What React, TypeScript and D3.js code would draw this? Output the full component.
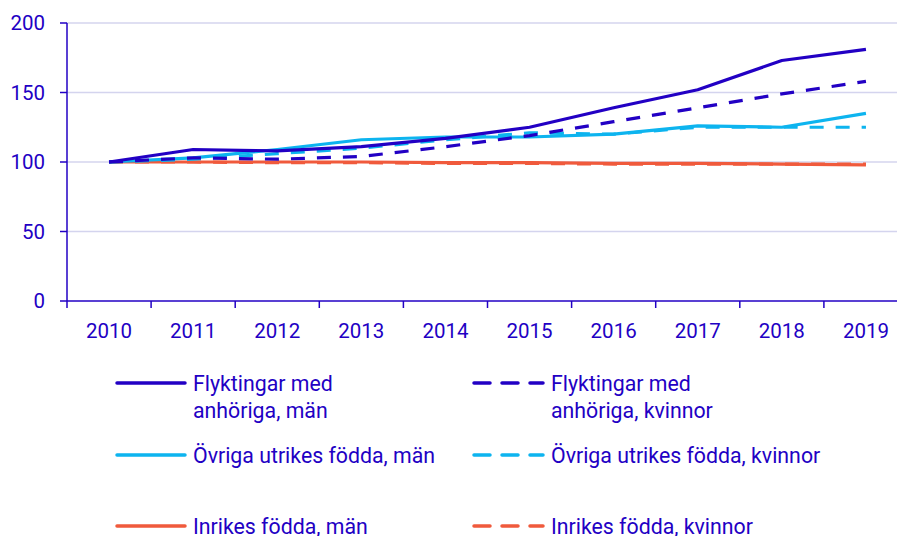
import React from "react";
import * as d3 from "d3";

const years = ["2010", "2011", "2012", "2013", "2014", "2015", "2016", "2017", "2018", "2019"];
const yTicks = [0, 50, 100, 150, 200];

const flyktMan = [100, 109, 108, 111, 117, 125, 139, 152, 173, 181];
const flyktKvinnor = [100, 103, 102, 104, 111, 119, 129, 139, 149, 158];
const ovrigaMan = [100, 103, 109, 116, 118, 118, 120, 126, 125, 135];
const ovrigaKvinnor = [100, 102, 106, 110, 116, 121, 120, 125, 125, 125];
const inrikesMan = [100, 100, 100, 100, 99.5, 99.5, 99, 99, 98.5, 98];
const inrikesKvinnor = [100, 100, 99.5, 99.5, 99, 99, 98.5, 98.5, 98.5, 98.5];

const DARK = "#2200c4";
const LIGHT = "#0db4ef";
const ORANGE = "#f05a3c";
const GRID = "#d4d4ee";

const series = [
  { name: "Flyktingar med anhöriga, män", lines: ["Flyktingar med", "anhöriga, män"], values: flyktMan, color: DARK, dashed: false },
  { name: "Flyktingar med anhöriga, kvinnor", lines: ["Flyktingar med", "anhöriga, kvinnor"], values: flyktKvinnor, color: DARK, dashed: true },
  { name: "Övriga utrikes födda, män", lines: ["Övriga utrikes födda, män"], values: ovrigaMan, color: LIGHT, dashed: false },
  { name: "Övriga utrikes födda, kvinnor", lines: ["Övriga utrikes födda, kvinnor"], values: ovrigaKvinnor, color: LIGHT, dashed: true },
  { name: "Inrikes födda, män", lines: ["Inrikes födda, män"], values: inrikesMan, color: ORANGE, dashed: false },
  { name: "Inrikes födda, kvinnor", lines: ["Inrikes födda, kvinnor"], values: inrikesKvinnor, color: ORANGE, dashed: true },
];

// draw order: orange first, then light, then dark
const drawOrder = [5, 4, 3, 2, 1, 0];

export default function App() {
  const W = 897, H = 536;
  const left = 67, right = 908, top = 23, bottom = 301;
  const x = d3.scaleBand<string>().domain(years).range([left, right]);
  const y = d3.scaleLinear().domain([0, 200]).range([bottom, top]);
  const line = d3.line<number>()
    .x((_, i) => (x(years[i]) as number) + x.bandwidth() / 2)
    .y((d) => y(d));
  const font = "Roboto, 'Noto Sans', sans-serif";
  const FS = 20.5;
  const LFS = 21.3;
  const legendRows = [383, 455, 526];
  const legendCols = [{ x1: 117, x2: 185, tx: 193 }, { x1: 474, x2: 543, tx: 551 }];

  return (
    <svg width={W} height={H} style={{ position: "absolute", left: 0, top: 0, display: "block" }} fontFamily={font}>
      <rect width={W} height={H} fill="#fff" />
      {yTicks.filter((t) => t > 0).map((t) => (
        <line key={t} x1={left} x2={right} y1={y(t)} y2={y(t)} stroke={GRID} strokeWidth={1.5} />
      ))}
      {yTicks.map((t) => (
        <g key={"yt" + t}>
          <line x1={left - 7} x2={left} y1={y(t)} y2={y(t)} stroke={DARK} strokeWidth={1.5} />
          <text x={45} y={y(t)} dy="0.35em" textAnchor="end" fontSize={FS} fill={DARK}>{t}</text>
        </g>
      ))}
      {drawOrder.map((i) => {
        const s = series[i];
        return (
          <path key={s.name} d={line(s.values) || ""} fill="none" stroke={s.color} strokeWidth={3.2}
            strokeDasharray={s.dashed ? "14 12" : undefined} strokeLinejoin="round" />
        );
      })}
      <line x1={left} x2={left} y1={top} y2={bottom + 7} stroke={DARK} strokeWidth={1.5} />
      <line x1={left} x2={right} y1={bottom} y2={bottom} stroke={DARK} strokeWidth={1.5} />
      {years.map((yr) => (
        <line key={"xt" + yr} x1={(x(yr) as number) + x.bandwidth()} x2={(x(yr) as number) + x.bandwidth()}
          y1={bottom} y2={bottom + 7} stroke={DARK} strokeWidth={1.5} />
      ))}
      {years.map((yr) => (
        <text key={"xl" + yr} x={(x(yr) as number) + x.bandwidth() / 2} y={338} textAnchor="middle" fontSize={FS} fill={DARK}>{yr}</text>
      ))}
      {series.map((s, i) => {
        const row = Math.floor(i / 2);
        const col = legendCols[i % 2];
        const ly = legendRows[row];
        return (
          <g key={"lg" + s.name}>
            <line x1={col.x1} x2={col.x2} y1={ly} y2={ly} stroke={s.color} strokeWidth={3.5}
              strokeDasharray={s.dashed ? "16 12" : undefined} strokeLinecap="round" />
            {s.lines.map((t, k) => (
              <text key={k} x={col.tx} y={ly + 7.5 + k * 27} fontSize={LFS} fill={DARK}>{t}</text>
            ))}
          </g>
        );
      })}
    </svg>
  );
}
